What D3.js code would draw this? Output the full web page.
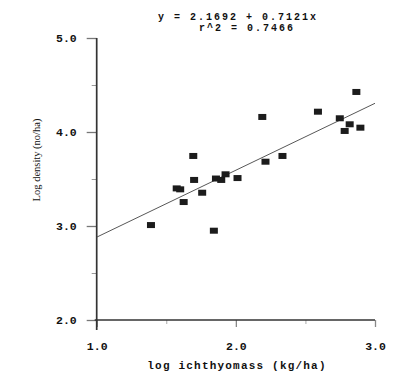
<!DOCTYPE html>
<html><head><meta charset="utf-8">
<script src="https://cdn.jsdelivr.net/npm/d3@7"></script>
<style>body{margin:0;background:#fff}svg{display:block}</style>
</head><body>
<svg id="c" width="400" height="382"></svg>
<script>
const xVals = [1.39,1.575,1.60,1.625,1.694,1.70,1.758,1.842,1.857,1.895,1.926,2.012,2.19,2.213,2.335,2.59,2.747,2.782,2.818,2.866,2.895];
const yVals = [3.01,3.40,3.39,3.255,3.745,3.49,3.354,2.95,3.505,3.49,3.55,3.51,4.16,3.684,3.745,4.216,4.146,4.011,4.082,4.426,4.046];
const intercept = 2.1692, slope = 0.7121;
const titleLines = ["y = 2.1692 + 0.7121x", "r^2 = 0.7466"];
const xMajor = [1,2,3], xMinor = [1.5,2.5];
const yMajor = [2,3,4,5], yMinor = [2.5,3.5,4.5];
const xTitle = "log ichthyomass (kg/ha)", yTitle = "Log density (no/ha)";

const svg = d3.select("#c");
const x = d3.scaleLinear().domain([1,3]).range([96.7,375]);
const y = d3.scaleLinear().domain([2,5]).range([320,38]);
const mono = "'Liberation Mono', 'DejaVu Sans Mono', monospace";

// y axis ticks
const ya = svg.append("g").attr("transform",`translate(${x(1)},0)`);
ya.call(d3.axisLeft(y).tickValues(yMajor).tickSize(10).tickSizeOuter(0).tickPadding(10).tickFormat(d3.format(".1f")));
ya.select(".domain").remove();
ya.selectAll(".tick line").attr("stroke","#777").attr("stroke-width",1.3);
ya.selectAll(".tick text").attr("font-family",mono).attr("font-weight","bold").attr("font-size",11.5).attr("fill","#111");
const yb = svg.append("g").attr("transform",`translate(${x(1)},0)`);
yb.call(d3.axisLeft(y).tickValues(yMinor).tickSize(5).tickSizeOuter(0).tickFormat(""));
yb.select(".domain").remove();
yb.selectAll(".tick line").attr("stroke","#999").attr("stroke-width",1);

// x axis ticks
const xa = svg.append("g").attr("transform",`translate(0,${y(2)})`);
xa.call(d3.axisBottom(x).tickValues(xMajor).tickSize(7).tickSizeOuter(0).tickPadding(15).tickFormat(d3.format(".1f")));
xa.select(".domain").remove();
xa.selectAll(".tick line").attr("stroke","#888").attr("stroke-width",1.3);
xa.selectAll(".tick text").attr("font-family",mono).attr("font-weight","bold").attr("font-size",11.5).attr("fill","#111");
const xb = svg.append("g").attr("transform",`translate(0,${y(2)})`);
xb.call(d3.axisBottom(x).tickValues(xMinor).tickSize(4).tickSizeOuter(0).tickFormat(""));
xb.select(".domain").remove();
xb.selectAll(".tick line").attr("stroke","#aaa").attr("stroke-width",1);

// axis lines
svg.append("line").attr("x1",x(1)).attr("x2",x(1)).attr("y1",y(5)).attr("y2",y(2)+10)
  .attr("stroke","#333").attr("stroke-width",1.7);
svg.append("line").attr("x1",x(1)-2).attr("x2",x(3)).attr("y1",y(2)).attr("y2",y(2))
  .attr("stroke","#333").attr("stroke-width",1.7);

// regression line
svg.append("line").attr("x1",x(1)).attr("y1",y(intercept+slope*1))
  .attr("x2",x(3)).attr("y2",y(intercept+slope*3))
  .attr("stroke","#444").attr("stroke-width",0.9);

// points
svg.append("g").selectAll("rect").data(xVals.map((d,i)=>[d,yVals[i]])).join("rect")
  .attr("x",d=>x(d[0])-4).attr("y",d=>y(d[1])-3).attr("width",8).attr("height",6)
  .attr("fill","#1c1c1c");

// title
svg.append("text").attr("x",238).attr("y",20).attr("text-anchor","middle")
  .attr("font-family",mono).attr("font-weight","bold").attr("font-size",10).attr("letter-spacing",2)
  .attr("fill","#111").style("white-space","pre").text(titleLines[0]);
svg.append("text").attr("x",247).attr("y",31).attr("text-anchor","middle")
  .attr("font-family",mono).attr("font-weight","bold").attr("font-size",10).attr("letter-spacing",2)
  .attr("fill","#111").style("white-space","pre").text(titleLines[1]);

// axis titles
svg.append("text").attr("x",237).attr("y",369).attr("text-anchor","middle")
  .attr("font-family",mono).attr("font-weight","bold").attr("font-size",11).attr("letter-spacing",1.2).attr("fill","#111")
  .text(xTitle);
svg.append("text").attr("transform","translate(40,160) rotate(-90)").attr("text-anchor","middle")
  .attr("font-family","'Liberation Serif', 'DejaVu Serif', serif").attr("font-size",10.5).attr("fill","#111")
  .text(yTitle);
</script>
</body></html>
